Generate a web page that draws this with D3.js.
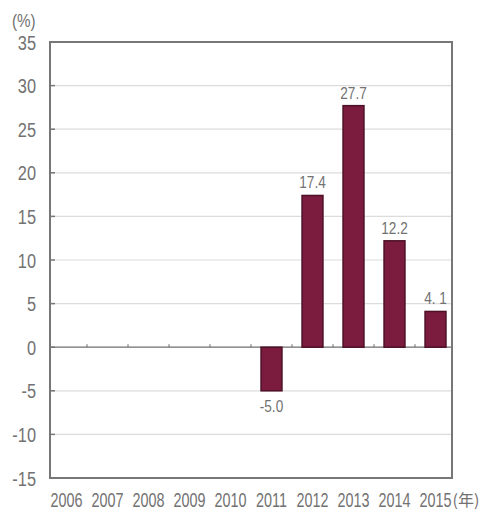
<!DOCTYPE html>
<html>
<head>
<meta charset="utf-8">
<script src="https://cdn.jsdelivr.net/npm/d3@7"></script>
<style>
  body { margin: 0; background: #fff; }
  text { font-family: "Liberation Sans", Arial, sans-serif; fill: #727272; }
</style>
</head>
<body>
<div id="chart"></div>
<script>
var years = ["2006", "2007", "2008", "2009", "2010", "2011", "2012", "2013", "2014", "2015"];
var growth = [null, null, null, null, null, -5.0, 17.4, 27.7, 12.2, 4.1];
var growthLabels = ["", "", "", "", "", "-5.0", "17.4", "27.7", "12.2", "4. 1"];
var yTicks = [35, 30, 25, 20, 15, 10, 5, 0, -5, -10, -15];

var width = 486, height = 513;
var plotL = 50, plotR = 452, plotT = 42, plotB = 478;

var svg = d3.select("#chart").append("svg")
    .attr("width", width)
    .attr("height", height);

var x = d3.scaleBand()
    .domain(years)
    .range([46, 456])
    .paddingInner(0.49)
    .paddingOuter(0.245);
var y = d3.scaleLinear()
    .domain([-15, 35])
    .range([plotB, plotT]);

// narrow text: place with translate, squeeze horizontally
function narrow(sel, sx) {
    return sel.attr("transform", function(d) {
        return "translate(" + d.px + "," + d.py + ") scale(" + sx + ",1)";
    });
}

// grid lines
svg.selectAll(".grid")
    .data(yTicks.filter(function(d) { return d != 35 && d != -15 && d != 0; }))
    .enter().append("line")
        .attr("x1", plotL).attr("x2", plotR)
        .attr("y1", function(d) { return y(d); })
        .attr("y2", function(d) { return y(d); })
        .attr("stroke", "#dcdcdc")
        .attr("stroke-width", 1.2);

// zero line
svg.append("line")
    .attr("x1", plotL).attr("x2", plotR)
    .attr("y1", y(0)).attr("y2", y(0))
    .attr("stroke", "#6e6e6e")
    .attr("stroke-width", 1.2);

// small ticks on zero line between categories
var step = x.step();
svg.selectAll(".ztick")
    .data(years.slice(1))
    .enter().append("line")
        .attr("x1", function(d) { return x(d) - x.paddingInner() * step / 2; })
        .attr("x2", function(d) { return x(d) - x.paddingInner() * step / 2; })
        .attr("y1", y(0)).attr("y2", y(0) - 3)
        .attr("stroke", "#6e6e6e")
        .attr("stroke-width", 1);

// bars
var rows = years.map(function(d, i) { return {year: d, v: growth[i], label: growthLabels[i]}; })
    .filter(function(d) { return d.v != null; });

svg.selectAll(".bar")
    .data(rows)
    .enter().append("rect")
        .attr("x", function(d) { return x(d.year); })
        .attr("width", x.bandwidth())
        .attr("y", function(d) { return y(Math.max(0, d.v)); })
        .attr("height", function(d) { return Math.abs(y(d.v) - y(0)); })
        .attr("fill", "#7b1c3e")
        .attr("stroke", "#4d1026")
        .attr("stroke-width", 1.5);

// value labels
narrow(svg.selectAll(".val")
    .data(rows.map(function(d) {
        return {
            label: d.label,
            px: x(d.year) + x.bandwidth() / 2,
            py: d.v < 0 ? y(d.v) + 21 : y(d.v) - 7
        };
    }))
    .enter().append("text")
        .attr("text-anchor", "middle")
        .attr("font-size", 17)
        .text(function(d) { return d.label; }), 0.8);

// frame
svg.append("rect")
    .attr("x", plotL).attr("y", plotT)
    .attr("width", plotR - plotL).attr("height", plotB - plotT)
    .attr("fill", "none")
    .attr("stroke", "#777")
    .attr("stroke-width", 2);

// y axis ticks and labels
svg.selectAll(".ytick")
    .data(yTicks)
    .enter().append("line")
        .attr("x1", plotL).attr("x2", plotL + 5)
        .attr("y1", function(d) { return y(d); })
        .attr("y2", function(d) { return y(d); })
        .attr("stroke", "#777")
        .attr("stroke-width", 1.5);

narrow(svg.selectAll(".ylab")
    .data(yTicks.map(function(d) { return {label: d, px: 36, py: y(d) + 7.5}; }))
    .enter().append("text")
        .attr("text-anchor", "end")
        .attr("font-size", 21)
        .text(function(d) { return d.label; }), 0.78);

narrow(svg.selectAll(".unit")
    .data([{px: 12, py: 27}])
    .enter().append("text")
        .attr("font-size", 19)
        .text("(%)"), 0.8);

// x labels
narrow(svg.selectAll(".xlab")
    .data(years.map(function(d) { return {label: d, px: x(d) + x.bandwidth() / 2, py: 507}; }))
    .enter().append("text")
        .attr("text-anchor", "middle")
        .attr("font-size", 20)
        .text(function(d) { return d.label; }), 0.72);

svg.append("text")
    .attr("x", x("2015") + x.bandwidth() / 2 + 17)
    .attr("y", 506)
    .attr("font-size", 16)
    .style("font-family", "'Noto Sans CJK KR', sans-serif")
    .text("(年)");
</script>
</body>
</html>
